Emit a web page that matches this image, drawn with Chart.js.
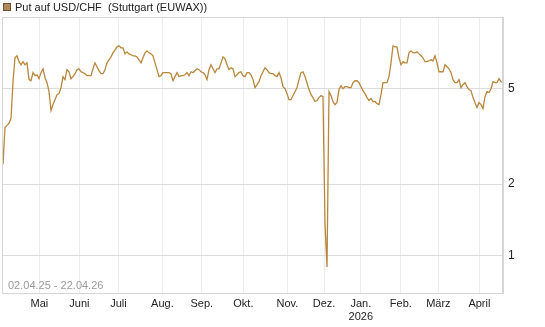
<!DOCTYPE html>
<html>
<head>
<meta charset="utf-8">
<script src="https://cdn.jsdelivr.net/npm/chart.js@4"></script>
<style>
  html, body { margin: 0; padding: 0; background: #fff; }
  #wrap { width: 545px; height: 327px; position: relative; }
</style>
</head>
<body>
<div id="wrap"><canvas id="chart" width="545" height="327"></canvas></div>
<script>
// Put auf USD/CHF, Stuttgart (EUWAX), 02.04.25 - 22.04.26
const seriesName = 'Put auf USD/CHF  (Stuttgart (EUWAX))';
const dateRange = '02.04.25 - 22.04.26';

const prices = [
    2.42, 3.45, 3.52, 3.59, 3.76, 5.36, 6.75, 6.88, 6.50, 6.31, 6.50, 6.31, 6.43, 5.47, 5.41, 5.85,
    5.68, 5.73, 5.52, 5.85, 6.07, 5.57, 5.31, 4.87, 4.06, 4.30, 4.51, 4.73, 4.78, 5.06, 5.63, 5.47,
    6.02, 5.90, 5.52, 5.63, 5.79, 6.02, 6.07, 5.90, 5.85, 5.79, 5.68, 5.68, 5.68, 6.07, 6.43, 6.19,
    5.96, 5.79, 5.79, 6.02, 6.43, 6.62, 6.81, 7.08, 7.29, 7.50, 7.57, 7.43, 7.43, 7.01, 7.15, 7.01,
    6.95, 6.88, 6.88, 6.81, 6.62, 6.43, 6.75, 7.08, 7.22, 7.08, 7.01, 6.88, 6.43, 6.02, 5.63, 5.68,
    5.85, 5.85, 5.85, 5.85, 5.79, 5.41, 5.63, 5.85, 5.63, 5.68, 5.68, 5.73, 5.85, 5.68, 5.90, 5.85,
    5.96, 6.07, 6.02, 5.90, 5.85, 5.73, 5.47, 6.02, 6.31, 6.07, 5.85, 6.07, 6.07, 6.43, 6.81, 6.69,
    6.31, 6.02, 6.13, 6.07, 5.63, 5.73, 5.85, 5.90, 5.68, 5.63, 5.85, 5.85, 5.73, 5.47, 5.06, 5.21,
    5.36, 5.68, 5.90, 6.13, 6.02, 5.85, 5.79, 5.79, 5.68, 5.63, 5.85, 5.57, 5.11, 5.01, 4.78, 4.51,
    4.51, 4.69, 4.87, 5.06, 5.47, 5.85, 5.90, 5.63, 5.31, 4.97, 4.73, 4.60, 4.43, 4.47, 4.60, 4.69,
    4.64, 1.36, 0.90, 4.87, 4.69, 4.43, 4.30, 4.39, 4.97, 5.16, 5.01, 5.11, 5.11, 5.06, 5.06, 5.31,
    5.41, 5.41, 5.31, 5.11, 4.92, 4.78, 4.60, 4.47, 4.56, 4.43, 4.43, 4.34, 4.30, 4.73, 5.31, 5.31,
    5.31, 5.63, 6.43, 7.57, 7.50, 7.50, 6.75, 6.31, 6.50, 6.43, 6.43, 7.08, 7.22, 7.08, 7.08, 7.15,
    7.01, 6.88, 6.75, 6.50, 6.50, 6.56, 6.62, 6.56, 6.88, 6.43, 5.90, 5.90, 5.90, 6.31, 6.19, 6.07,
    5.85, 5.47, 5.31, 5.31, 5.47, 5.06, 5.21, 5.31, 5.11, 4.97, 4.92, 4.60, 4.39, 4.18, 4.39, 4.30,
    4.14, 4.64, 4.87, 4.83, 5.01, 5.36, 5.31, 5.31, 5.52, 5.36, 5.31
];

// month starts, as observation index
const monthTickIdx = [18.2, 38.2, 57.7, 79.7, 99.4, 120.2, 142.2, 160.5, 178.9, 198.9, 217.7, 238.2];
const monthLabels = ['Mai', 'Juni', 'Juli', 'Aug.', 'Sep.', 'Okt.', 'Nov.', 'Dez.', ['Jan.', '2026'], 'Feb.', 'März', 'April'];
const yTicks = [1, 2, 5];

const lineColor = '#b8863c';

Chart.defaults.font.family = '"Liberation Sans", Arial, sans-serif';
Chart.defaults.color = '#222';

const chartExtras = {
    id: 'chartExtras',
    afterDraw(chart) {
        const ctx = chart.ctx;
        const a = chart.chartArea;
        ctx.save();
        // frame
        ctx.strokeStyle = '#d6d6d6';
        ctx.lineWidth = 1;
        ctx.strokeRect(a.left - 0.5, a.top + 0.5, a.right - a.left, a.bottom - a.top);
        // legend
        ctx.fillStyle = '#b08a55';
        ctx.fillRect(3, 3, 8, 8);
        ctx.strokeStyle = '#6e5530';
        ctx.strokeRect(3.5, 3.5, 7, 7);
        ctx.fillStyle = '#222';
        ctx.font = '11px "Liberation Sans", Arial, sans-serif';
        ctx.textBaseline = 'middle';
        ctx.fillText(seriesName, 15, 8);
        // date range
        ctx.fillStyle = '#9a9a9a';
        ctx.fillText(dateRange, 8, a.bottom - 7);
        ctx.restore();
    }
};

const ctx = document.getElementById('chart').getContext('2d');
new Chart(ctx, {
    type: 'line',
    data: {
        datasets: [{
            label: seriesName,
            data: prices.map((v, i) => ({ x: i, y: v })),
            borderColor: lineColor,
            borderWidth: 1.3,
            pointRadius: 0,
            tension: 0,
            fill: false
        }]
    },
    options: {
        responsive: false,
        animation: false,
        devicePixelRatio: 1,
        layout: { padding: { left: 3, top: 17, right: 0, bottom: 0 } },
        plugins: {
            legend: { display: false },
            tooltip: { enabled: false }
        },
        scales: {
            x: {
                type: 'linear',
                min: 0,
                max: prices.length - 1,
                afterBuildTicks: scale => { scale.ticks = monthTickIdx.map(v => ({ value: v })); },
                afterFit: scale => { scale.height = 34; },
                grid: { color: '#ececec', drawTicks: false },
                border: { color: '#d6d6d6' },
                ticks: {
                    autoSkip: false,
                    maxRotation: 0,
                    padding: 4,
                    font: { size: 11 },
                    callback: (value, index) => monthLabels[index]
                }
            },
            y: {
                type: 'logarithmic',
                position: 'right',
                min: 0.7,
                max: 10,
                afterBuildTicks: scale => { scale.ticks = yTicks.map(v => ({ value: v })); },
                afterFit: scale => { scale.width = 42; },
                grid: { color: '#dcdcdc', drawTicks: false },
                border: { color: '#d6d6d6' },
                ticks: {
                    padding: 5,
                    font: { size: 12 },
                    callback: value => String(value)
                }
            }
        }
    },
    plugins: [chartExtras]
});
</script>
</body>
</html>
